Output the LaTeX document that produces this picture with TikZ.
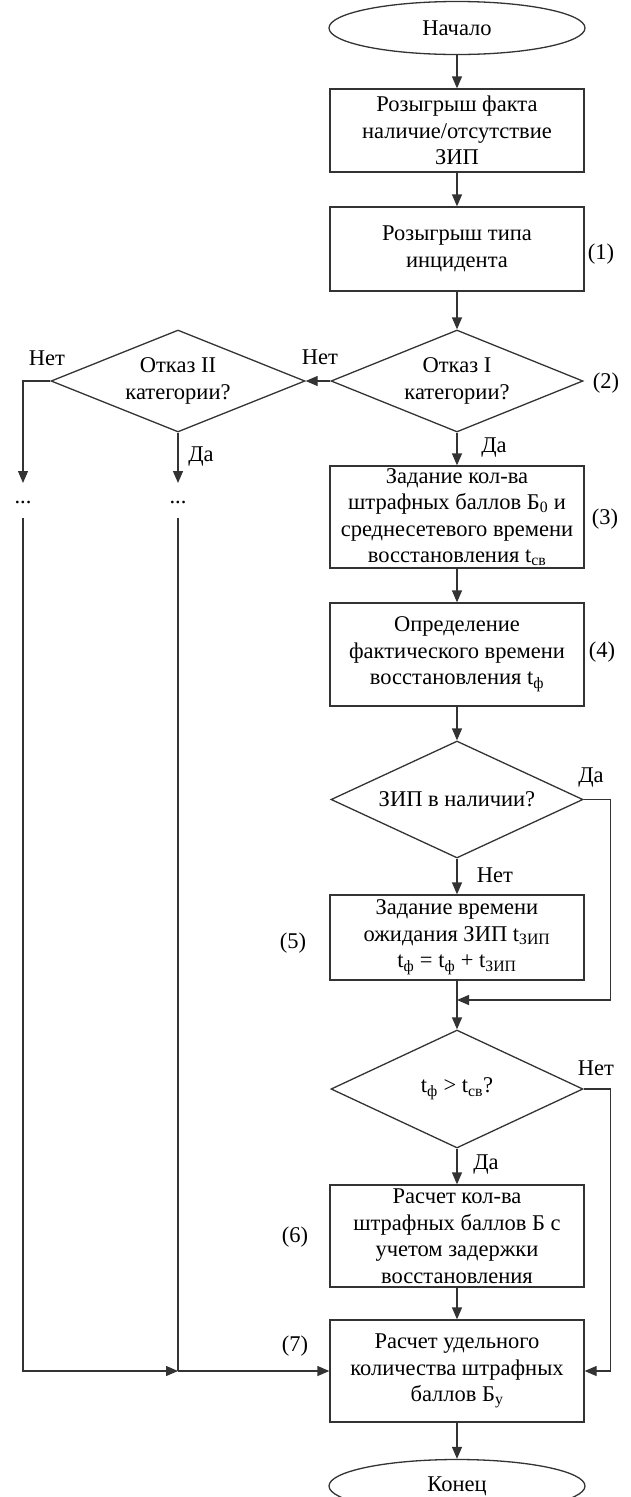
\documentclass[tikz,border=0pt]{standalone}
\usepackage{fontspec}
\setmainfont{Liberation Serif}
\usetikzlibrary{shapes.geometric,arrows.meta}
\begin{document}
\begin{tikzpicture}[x=1pt,y=-1pt,
  every node/.style={font=\fontsize{22.5}{26.5}\selectfont, text=black},
  line/.style={draw=black!80, line width=1.3pt},
  arr/.style={line, -{Triangle[length=12pt,width=10pt]}},
  proc/.style={draw=black!80, line width=1.3pt, rectangle, minimum width=254pt, inner sep=0pt, align=center},
  term/.style={draw=black!80, line width=1.3pt, ellipse, minimum width=256pt, minimum height=53pt, inner sep=0pt},
  dec/.style={draw=black!80, line width=1.3pt, diamond, inner sep=0pt, align=center, minimum width=252pt},
  lbl/.style={inner sep=0pt}
]
\useasboundingbox (0,0) rectangle (630,1497);

% main column
\node[term] (start) at (457,28) {Начало};
\node[proc, minimum height=83pt] (b1) at (457,130.5) {Розыгрыш факта\\наличие/отсутствие\\ЗИП};
\node[proc, minimum height=84pt] (b2) at (457,249) {Розыгрыш типа\\инцидента};
\node[dec, aspect=2.47, minimum height=102pt] (d1) at (457,381) {Отказ I\\категории?};
\node[proc, minimum height=102pt] (b3) at (457,517) {Задание кол-ва\\штрафных баллов Б\textsubscript{0} и\\среднесетевого времени\\восстановления t\textsubscript{св}};
\node[proc, minimum height=103pt] (b4) at (457,654.5) {Определение\\фактического времени\\восстановления t\textsubscript{ф}};
\node[dec, aspect=2.15, minimum height=117pt] (d2) at (457,799.5) {ЗИП в наличии?};
\node[proc, minimum height=85pt] (b5) at (457,937.5) {Задание времени\\ожидания ЗИП t\textsubscript{ЗИП}\\t\textsubscript{ф} = t\textsubscript{ф} + t\textsubscript{ЗИП}};
\node[dec, aspect=2.14, minimum height=118pt] (d3) at (457,1089) {t\textsubscript{ф} > t\textsubscript{св}?};
\node[proc, minimum height=102pt] (b6) at (457,1236) {Расчет кол-ва\\штрафных баллов Б с\\учетом задержки\\восстановления};
\node[proc, minimum height=102pt] (b7) at (457,1371) {Расчет удельного\\количества штрафных\\баллов Б\textsubscript{у}};
\node[term] (end) at (457,1486) {Конец};

% second-category branch
\node[dec, aspect=2.49, minimum width=254pt, minimum height=102pt] (d1b) at (178,381) {Отказ II\\категории?};
\node[lbl] (dots1) at (23,502) {...};
\node[lbl] (dots2) at (178,502) {...};
\coordinate (k1) at (23,483);
\coordinate (k2) at (178,483);
\coordinate (s1) at (23,518);
\coordinate (s2) at (178,518);
\coordinate (j) at (178,1371);
\coordinate (m1) at (457,1000);

% step numbers
\node[lbl] (n1) at (601,254) {(1)};
\node[lbl] (n2) at (606,383) {(2)};
\node[lbl] (n3) at (605,519) {(3)};
\node[lbl] (n4) at (602,652) {(4)};
\node[lbl] (n5) at (293,943) {(5)};
\node[lbl] (n6) at (295,1237) {(6)};
\node[lbl] (n7) at (295,1346) {(7)};

% branch labels
\node[lbl] (t1) at (47,358) {Нет};
\node[lbl] (t2) at (320,357) {Нет};
\node[lbl] (t3) at (201,457) {Да};
\node[lbl] (t4) at (494,448) {Да};
\node[lbl] (t5) at (591,778) {Да};
\node[lbl] (t6) at (495,875) {Нет};
\node[lbl] (t7) at (596,1068) {Нет};
\node[lbl] (t8) at (486,1165) {Да};

% connectors
\draw[arr] (start) -- (b1);
\draw[arr] (b1) -- (b2);
\draw[arr] (b2) -- (d1);
\draw[arr] (d1) -- (b3);
\draw[arr] (d1.west) -- (d1b.east);
\draw[arr] (b3) -- (b4);
\draw[arr] (b4) -- (d2);
\draw[arr] (d2) -- (b5);
\draw[arr] (b5) -- (d3);
\draw[arr] (d2.east) -- ++(27,0) |- (m1);
\draw[arr] (d3) -- (b6);
\draw[arr] (b6) -- (b7);
\draw[arr] (d3.east) -- ++(27,0) |- (b7.east);
\draw[arr] (b7) -- (end);

\draw[arr] (d1b.west) -| (k1);
\draw[arr] (d1b.south) -- (k2);
\draw[arr] (s1) |- (j);
\draw[line] (s2) -- (j);
\draw[arr] (j) -- (b7.west);
\end{tikzpicture}
\end{document}
